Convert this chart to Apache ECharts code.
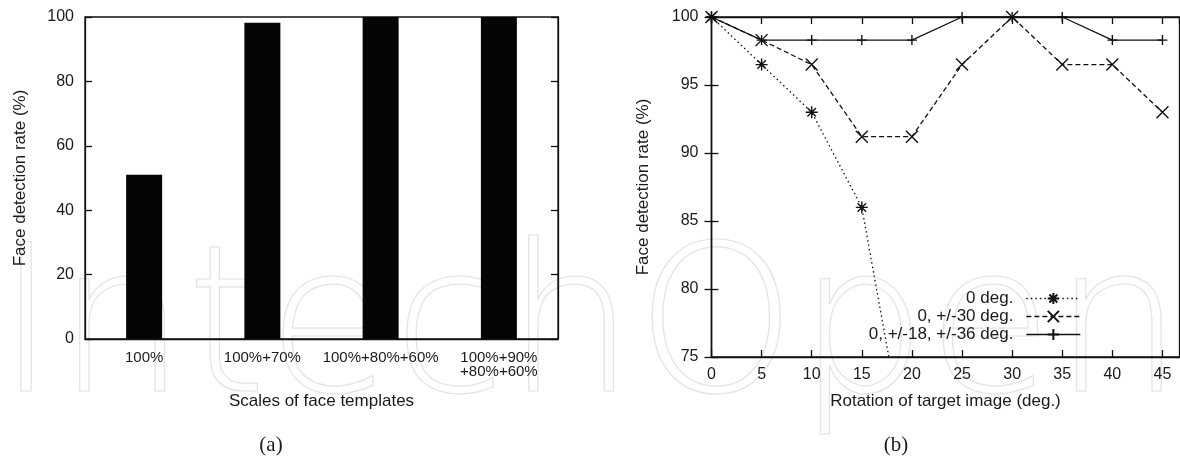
<!DOCTYPE html>
<html><head><meta charset="utf-8">
<script src="https://cdn.jsdelivr.net/npm/echarts@6/dist/echarts.min.js"></script>
<style>html,body{margin:0;padding:0;background:#fff}#c{width:1180px;height:460px}</style>
</head><body><div id="c"></div>
<script>
// ---- data ----
const scaleCategories = ['100%', '100%+70%', '100%+80%+60%', '100%+90%\n+80%+60%'];
const detectionRate = [51, 98.2, 100, 100];
const rotationDeg = [0, 5, 10, 15, 20, 25, 30, 35, 40, 45];
const rate0 = [100, 96.5, 93, 86, 65.6];
const rate30 = [100, 98.3, 96.5, 91.2, 91.2, 96.5, 100, 96.5, 96.5, 93];
const rate1836 = [100, 98.3, 98.3, 98.3, 98.3, 100, 100, 100, 98.3, 98.3];
const seriesNames = ['0 deg.', '0, +/-30 deg.', '0, +/-18, +/-36 deg.'];

// ---- styling ----
const FONT = '"Liberation Sans", Arial, sans-serif';
const INK = '#111';
const TXT = '#1a1a1a';
const LW = 1.3;
const pairs = (xs, ys) => ys.map((y, i) => [xs[i], y]);
const SYM_AST = 'path://M0,6L12,6M6,0L6,12M1.76,1.76L10.24,10.24M10.24,1.76L1.76,10.24';
const SYM_X = 'path://M0,0L12,12M12,0L0,12';
const SYM_PLUS = 'path://M0,6L12,6M6,0L6,12';

const axisLine = { show: true, lineStyle: { color: INK, width: LW } };
const tickIn = { show: true, inside: true, length: 7, lineStyle: { color: INK, width: LW } };
const noSplit = { show: false };

const chart = echarts.init(document.getElementById('c'), null, { renderer: 'canvas' });
chart.setOption({
  animation: false,
  backgroundColor: 'transparent',
  textStyle: { fontFamily: FONT, color: TXT },
  grid: [
    { left: 85, top: 17, width: 473, height: 322, show: true, borderColor: INK, borderWidth: LW, backgroundColor: 'transparent' },
    { left: 711.5, top: 17, right: 0.5, height: 340, show: true, borderColor: INK, borderWidth: LW, backgroundColor: 'transparent' }
  ],
  xAxis: [
    { gridIndex: 0, type: 'category', data: scaleCategories, boundaryGap: true,
      axisLine, axisTick: { show: false }, splitLine: noSplit,
      axisLabel: { interval: 0, fontSize: 15, color: TXT, margin: 12, lineHeight: 14, fontFamily: FONT },
      name: 'Scales of face templates', nameLocation: 'middle', nameGap: 54,
      nameTextStyle: { fontSize: 17, color: TXT, fontFamily: FONT } },
    { gridIndex: 1, type: 'value', min: 0, max: 46.7, interval: 5,
      axisLine, axisTick: tickIn, splitLine: noSplit,
      axisLabel: { fontSize: 16, color: TXT, margin: 10, showMaxLabel: false, fontFamily: FONT },
      name: 'Rotation of target image (deg.)', nameLocation: 'middle', nameGap: 36,
      nameTextStyle: { fontSize: 17, color: TXT, fontFamily: FONT } },
    { gridIndex: 1, type: 'value', position: 'top', min: 0, max: 46.7, interval: 5,
      axisLine, axisTick: tickIn, splitLine: noSplit, axisLabel: { show: false } }
  ],
  yAxis: [
    { gridIndex: 0, type: 'value', min: 0, max: 100, interval: 20,
      axisLine, axisTick: tickIn, splitLine: noSplit,
      axisLabel: { fontSize: 16, color: TXT, margin: 11, fontFamily: FONT },
      name: 'Face detection rate (%)', nameLocation: 'middle', nameGap: 56,
      nameTextStyle: { fontSize: 17, color: TXT, fontFamily: FONT } },
    { gridIndex: 0, type: 'value', position: 'right', min: 0, max: 100, interval: 20,
      axisLine, axisTick: tickIn, splitLine: noSplit, axisLabel: { show: false } },
    { gridIndex: 1, type: 'value', min: 75, max: 100, interval: 5,
      axisLine, axisTick: tickIn, splitLine: noSplit,
      axisLabel: { fontSize: 16, color: TXT, margin: 13, fontFamily: FONT },
      name: 'Face detection rate (%)', nameLocation: 'middle', nameGap: 60,
      nameTextStyle: { fontSize: 17, color: TXT, fontFamily: FONT } },
    { gridIndex: 1, type: 'value', position: 'right', min: 75, max: 100, interval: 5,
      axisLine, axisTick: tickIn, splitLine: noSplit, axisLabel: { show: false } }
  ],
  legend: {
    orient: 'vertical', align: 'right', right: 99, top: 290,
    itemWidth: 54, itemHeight: 14, itemGap: 1, padding: 0,
    textStyle: { fontSize: 17, color: TXT, fontFamily: FONT, lineHeight: 17, padding: [0, 8, 0, 0] },
    lineStyle: { width: LW },
    data: seriesNames
  },
  graphic: [
    { type: 'text', z: -100, x: -4, y: 440,
      style: { text: 'IntechOpen', fontSize: 205, fontWeight: 200, fontFamily: '"DejaVu Sans"',
               fill: 'none', stroke: '#e3e3e3', lineWidth: 1.2, verticalAlign: 'bottom' } },
    { type: 'text', x: 271, y: 445,
      style: { text: '(a)', fontSize: 21, fontFamily: '"Liberation Serif", serif', fill: TXT, align: 'center', verticalAlign: 'middle' } },
    { type: 'text', x: 896, y: 445,
      style: { text: '(b)', fontSize: 21, fontFamily: '"Liberation Serif", serif', fill: TXT, align: 'center', verticalAlign: 'middle' } }
  ],
  series: [
    { type: 'bar', xAxisIndex: 0, yAxisIndex: 0, data: detectionRate, barWidth: 36,
      itemStyle: { color: '#050505' }, silent: true },
    { name: seriesNames[0], type: 'line', xAxisIndex: 1, yAxisIndex: 2, data: pairs(rotationDeg, rate0),
      clip: true, symbol: SYM_AST, symbolSize: 12,
      lineStyle: { color: INK, width: LW, type: [1.5, 3] },
      itemStyle: { color: INK, borderColor: INK, borderWidth: 1.4 } },
    { name: seriesNames[1], type: 'line', xAxisIndex: 1, yAxisIndex: 2, data: pairs(rotationDeg, rate30),
      clip: true, symbol: SYM_X, symbolSize: 12,
      lineStyle: { color: INK, width: LW, type: [5, 3] },
      itemStyle: { color: INK, borderColor: INK, borderWidth: 1.4 } },
    { name: seriesNames[2], type: 'line', xAxisIndex: 1, yAxisIndex: 2, data: pairs(rotationDeg, rate1836),
      clip: true, symbol: SYM_PLUS, symbolSize: 10,
      lineStyle: { color: INK, width: LW, type: 'solid' },
      itemStyle: { color: INK, borderColor: INK, borderWidth: 1.4 } }
  ]
});
</script></body></html>
